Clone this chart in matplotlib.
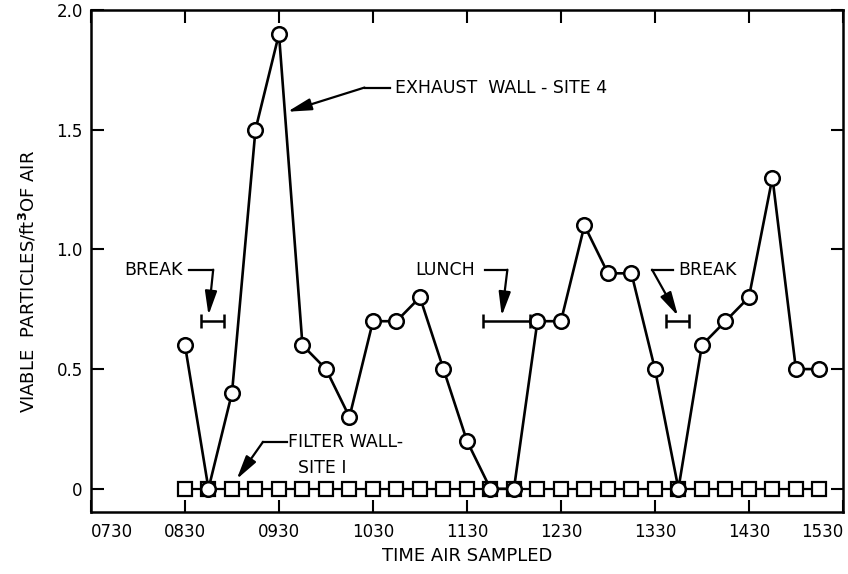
import matplotlib
matplotlib.use('Agg')
import matplotlib.pyplot as plt

plt.rcParams['font.family'] = ['DejaVu Sans']

# sample times (every 15 min) and viable particle counts per ft^3
times = ['0830', '0845', '0900', '0915', '0930', '0945', '1000', '1015', '1030', '1045',
         '1100', '1115', '1130', '1145', '1200', '1215', '1230', '1245', '1300', '1315',
         '1330', '1345', '1400', '1415', '1430', '1445', '1500', '1515']
exhaust_site4 = [0.6, 0.0, 0.4, 1.5, 1.9, 0.6, 0.5, 0.3, 0.7, 0.7,
                 0.8, 0.5, 0.2, 0.0, 0.0, 0.7, 0.7, 1.1, 0.9, 0.9,
                 0.5, 0.0, 0.6, 0.7, 0.8, 1.3, 0.5, 0.5]
filter_site1 = [0.0, 0.0, 0.0, 0.0, 0.0, 0.0, 0.0, 0.0, 0.0, 0.0,
                0.0, 0.0, 0.0, 0.0, 0.0, 0.0, 0.0, 0.0, 0.0, 0.0,
                0.0, 0.0, 0.0, 0.0, 0.0, 0.0, 0.0, 0.0]

tick_times = ['0730', '0830', '0930', '1030', '1130', '1230', '1330', '1430', '1530']
y_ticks = [0, 0.5, 1.0, 1.5, 2.0]
y_ticklabels = ['0', '0.5', '1.0', '1.5', '2.0']

# break / lunch periods (start, end) drawn as bars
periods = [('0840', '0855'), ('1140', '1210'), ('1337', '1352')]
period_level = 0.70


def hours(s):
    return int(s[:2]) + int(s[2:]) / 60.0


x = [hours(t) for t in times]

fig = plt.figure(figsize=(8.48, 5.74), dpi=100)
ax = fig.add_axes([0.1073, 0.108, 0.8867, 0.8746])

ax.plot(x, filter_site1, '-', color='k', lw=1.6, marker='s', ms=9.5,
        mfc='white', mec='k', mew=1.6, zorder=3)
ax.plot(x, exhaust_site4, '-', color='k', lw=1.9, marker='o', ms=10.5,
        mfc='white', mec='k', mew=1.8, zorder=4)

for start, end in periods:
    a, b = hours(start), hours(end)
    ax.errorbar((a + b) / 2, period_level, xerr=(b - a) / 2, fmt='none',
                ecolor='k', elinewidth=1.8, capsize=5, capthick=1.8, zorder=5)

arrow = dict(arrowstyle='-|>,head_length=0.8,head_width=0.2', color='k', lw=1.6,
             mutation_scale=18, shrinkA=0, shrinkB=0)
fs = 12.5

# EXHAUST WALL - SITE 4
ax.text(10.73, 1.676, 'EXHAUST  WALL - SITE 4', fontsize=fs, va='center', ha='left')
ax.plot([10.41, 10.68], [1.676, 1.676], color='k', lw=1.6)
ax.annotate('', xy=(9.59, 1.575), xytext=(10.41, 1.676), arrowprops=arrow)

# BREAK (morning)
ax.text(8.48, 0.915, 'BREAK', fontsize=fs, va='center', ha='right')
ax.plot([8.54, 8.80], [0.915, 0.915], color='k', lw=1.6)
ax.annotate('', xy=(8.75, 0.725), xytext=(8.80, 0.915), arrowprops=arrow)

# LUNCH
ax.text(11.585, 0.915, 'LUNCH', fontsize=fs, va='center', ha='right')
ax.plot([11.69, 11.93], [0.915, 0.915], color='k', lw=1.6)
ax.annotate('', xy=(11.87, 0.722), xytext=(11.93, 0.915), arrowprops=arrow)

# BREAK (afternoon)
ax.text(13.745, 0.912, 'BREAK', fontsize=fs, va='center', ha='left')
ax.plot([13.47, 13.69], [0.915, 0.915], color='k', lw=1.6)
ax.annotate('', xy=(13.745, 0.722), xytext=(13.47, 0.915), arrowprops=arrow)

# FILTER WALL - SITE 1
ax.text(9.596, 0.196, 'FILTER WALL-', fontsize=fs, va='center', ha='left')
ax.text(9.70, 0.088, 'SITE I', fontsize=fs, va='center', ha='left')
ax.plot([9.33, 9.585], [0.196, 0.196], color='k', lw=1.6)
ax.annotate('', xy=(9.05, 0.04), xytext=(9.33, 0.196), arrowprops=arrow)

ax.set_xlim(7.5, 15.5)
ax.set_ylim(-0.097, 2.0)
ax.set_xticks([hours(t) for t in tick_times])
ax.set_xticklabels(tick_times)
ax.set_yticks(y_ticks)
ax.set_yticklabels(y_ticklabels)
labels = ax.get_xticklabels()
labels[0].set_ha('left')
labels[-1].set_ha('right')

ax.tick_params(direction='in', top=True, right=True, length=9, width=1.5,
               labelsize=12)
ax.tick_params(axis='x', pad=8)
ax.tick_params(axis='y', pad=6)
for s in ax.spines.values():
    s.set_linewidth(1.8)

ax.set_xlabel('TIME AIR SAMPLED', fontsize=13, labelpad=4)
ax.set_ylabel('VIABLE  PARTICLES/ft$^{\\mathbf{3}}$OF AIR', fontsize=13)
ax.yaxis.set_label_coords(-0.07, 0.46)

fig.savefig('out.png', dpi=100)
